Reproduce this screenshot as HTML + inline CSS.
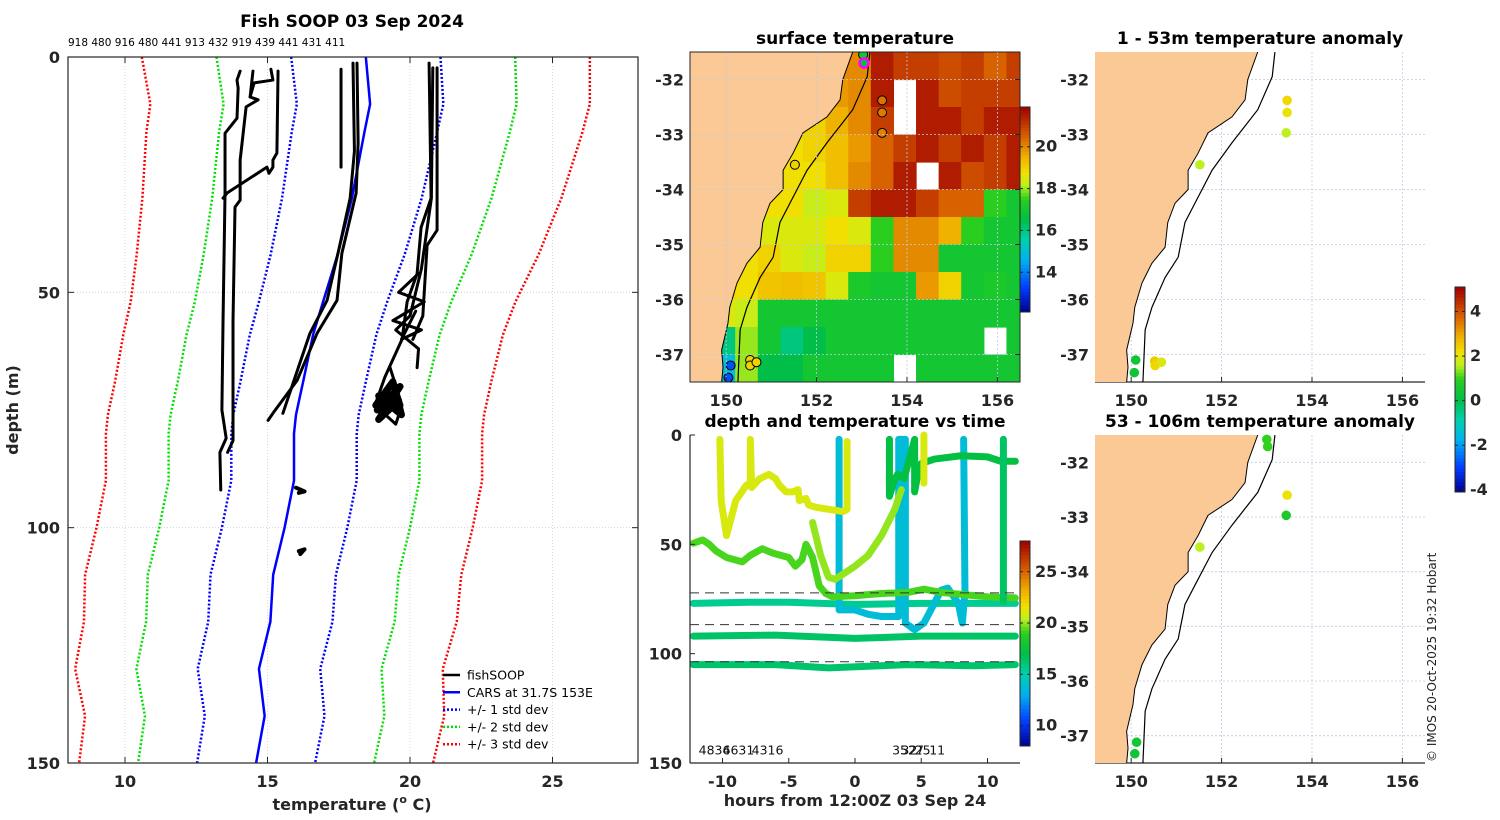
<!DOCTYPE html>
<html><head><meta charset="utf-8"><style>
html,body{margin:0;padding:0;background:#fff;}
svg{display:block;font-family:"DejaVu Sans","Liberation Sans",sans-serif;}
.tk{font-weight:bold;font-size:16px;fill:#262626;}
.tt{font-weight:bold;font-size:17px;fill:#000;}
</style></head><body>
<svg id="fig" width="1500" height="820" viewBox="0 0 1500 820" xmlns="http://www.w3.org/2000/svg">
<g id="main"></g>
<g id="sst"></g>
<g id="tdt"></g>
<g id="anom1"></g>
<g id="anom2"></g>
<text x="1436" y="762" transform="rotate(-90 1436 762)" font-size="12" fill="#222">© IMOS 20-Oct-2025 19:32 Hobart</text>
</svg>
<script>
// ---------- main profile chart data ----------
const depths = [0,10,16,30,42,52,59,69,76,80,90,100,110,120,130,140,150];
const carsMean = [18.45,18.6,18.4,17.96,17.46,16.95,16.6,16.25,16.0,15.93,15.93,15.6,15.2,15.1,14.7,14.9,14.6];
const carsSd = [2.62,2.57,2.55,2.45,2.35,2.25,2.22,2.2,2.2,2.2,2.2,2.2,2.2,2.18,2.15,2.1,2.07];
const xTicks = [10,15,20,25];
const yTicks = [0,50,100,150];
const topLabels = "918 480 916 480 441 913 432 919 439 441 431 411";
const profA = [[14.04,3],[13.93,4.9],[13.97,6.6],[13.93,13],[13.51,16.2],[13.51,28.9],[13.44,56],[13.4,75],[13.55,81],[13.33,84],[13.36,92]];
const profB = [[14.49,3],[14.39,8.5],[14.67,9.1],[14.25,10.6],[14.04,21.9],[14.04,30.4],[13.86,31.9],[13.79,56],[13.79,81.5],[13.6,84]];
const profC = [[15.12,2.6],[15.19,4.9],[14.53,5.5],[14.39,8.5]];
const profD = [[15.37,3],[15.33,20.4],[15.19,21.9],[15.19,23.4],[15.05,24.7],[14.98,23.4],[13.58,28.9],[13.44,30]];
const profF = [[17.58,2.6],[17.58,23.4]];
const profG1 = [[18.14,1.3],[18.18,18.3],[18.11,28.9],[17.61,41.7],[17.44,51.7],[16.74,58.7],[16.04,68.7],[15.19,75.7],[15.02,77.2]];
const profG2 = [[18.0,1.3],[18.05,20],[17.9,30],[17.5,41],[17.09,51.7],[16.49,58.7],[15.93,68.7],[15.54,75.7]];
const profH1 = [[20.67,1.3],[20.74,30],[20.39,36.2],[20.25,46],[19.9,52],[19.72,60],[19.12,68],[18.77,74],[19.5,78],[19.72,74],[19.3,66]];
const profH2 = [[20.95,2.3],[20.95,36.8],[20.6,40],[20.5,50],[20.45,55],[20.1,60]];
const profH3 = [[20.8,2.3],[20.75,30],[20.4,45],[20.0,55],[19.5,58],[20.3,62],[20.25,66]];
const profH4 = [[20.3,46],[19.6,50],[20.5,52],[19.4,56],[20.4,58],[19.7,60],[20.2,54]];
const profBlob = [[18.85,75],[19.65,70],[18.9,77],[19.6,73],[18.8,74],[19.4,69],[19.7,76],[18.9,72]];
const profS1 = [[16.0,91.5],[16.3,92.3],[16.1,92.6]];
const profS2 = [[16.1,105],[16.3,104.6],[16.15,105.6]];
const fishProfiles = [profA,profB,profC,profD,profF,profG1,profG2,profH1,profH2,profH3,profH4,profBlob,profS1,profS2];

// ---------- SST map data (0.5 deg cells from 149.2E, rows from 31.5S) ----------
const sstRows = [
[19,19,19,19,19,19,20,20,21.5,21,21,20.8,21,20.5,21],
[19,19,19,19,19,19,19.8,20,21.5,null,21.5,20.8,21,21,21],
[19,19,19,19,19,19,19.5,20,21,null,21.5,21.5,21,21.5,21.5],
[19,19,19,19,18.8,19,19.3,19.8,20.5,21,21.5,21,21.5,21,21.5],
[19,19,19,19,18.8,18.8,19.3,20,20.5,21.5,null,21.5,20.8,21,21.5],
[19,19,19,18.8,18.8,18.3,18.5,21,21.5,21.5,21,20.5,20.5,17.5,17],
[19,19,19,18.5,18.5,18.5,18.8,18.5,17.5,20,20,19.5,17.5,17,17],
[19,19,18.8,19,18.5,18.3,19,19,17.5,20,20,17,17,17,17],
[19,19,18.8,19.2,19.3,19.2,18.5,17.2,17,17,19.8,19,17,17.2,17],
[18,18.5,18.3,17,17,17,17,17,17,17,17,17,17,17,17],
[16,16,18,17,16,16.5,17,17,17,17,17,17,17,null,17],
[15,15,18,16.5,16.5,17,17,17,17,null,17,17,17,17,17]];
const coastLon = [152.8,152.58,152.52,152.23,151.7,151.48,151.26,151.26,150.97,150.81,150.75,150.46,150.24,150.08,150.04,149.9,149.93,149.9];
const coastLat = [-31.5,-32.0,-32.37,-32.68,-32.97,-33.34,-33.65,-34.0,-34.25,-34.6,-35.05,-35.34,-35.7,-36.14,-36.43,-36.92,-37.23,-37.5];
const shelfLon = [153.18,153.12,152.8,152.23,151.79,151.41,151.19,151.04,150.75,150.46,150.31,150.26];
const shelfLat = [-31.5,-31.95,-32.55,-33.15,-33.65,-34.25,-34.6,-35.23,-35.6,-36.14,-36.55,-37.5];
const lonTicks = [150,152,154,156];
const latTicks = [-32,-33,-34,-35,-36,-37];
const sstStLon = [153.45,153.45,153.45,151.52,150.53,150.53,150.67,150.1,150.05,153.03];
const sstStLat = [-32.38,-32.6,-32.97,-33.55,-37.1,-37.2,-37.14,-37.2,-37.42,-31.55];
const sstStVal = [20.3,20.2,20.1,19.0,19.0,19.0,19.0,13.5,13.5,17.0];
const sstCbTicks = [14,16,18,20];

// ---------- depth/time chart data ----------
const trkHours1 = [-12.2,-11.5,-11,-10.5,-9.7,-8.5,-7.9,-7,-6.2,-5,-4.5,-4,-3.7,-3.2,-2.7,-2.2,-1.7,0,2,4,5.2,6.5,8.2,10,12.1];
const trkDepth1 = [49.5,48,50,53,56,58,55,52,54,56,60,57,50,56,69,72.5,74,73.5,72.5,72,70.5,72,73,74,74.5];
const trkTemp1 = 19.3;
const trkHours2 = [-10.2,-10.1,-9.7,-9,-8.2,-7.9,-7.9,-7.8,-7.2,-6.5,-6,-5.7,-5.2,-4.7,-4.3,-4.2,-3.7,-3.5,-3,-2,-0.9,-0.6,-0.6];
const trkDepth2 = [2,30,46,30,23,22,2,24,20,18,20,23,26,26,25,30,29,32,33,34,35,34,3];
const trkTemp2 = 21;
const trkHours3 = [-3.2,-2.6,-2,-1.5,-1,0,1,2,3,3.5];
const trkDepth3 = [40,55,65,66,64,60,55,46,34,25];
const trkTemp3 = 20;
const trkHours4 = [2.6,2.6,2.9,3.2,3.7,4.5,4.5,4.8,5,6,8,10,11,12.1];
const trkDepth4 = [2,28,22,18,20,2,26,16,13,11,9.5,10,12,12];
const trkTemp4 = 17.2;
const trkHours5 = [-1.2,-1.2,-1.2,0,1,2,3.3,3.3,3.5,3.8,3.8,4.5,5.2,5.9,6.5,7,7.8,8.1,8.3,8.2];
const trkDepth5 = [2,78,80,80,82,83,83,2,2,2,86,89,86,78,71,70,77,86,72,2];
const trkTemp5 = 13.8;
const trkHours6 = [-12.2,-8,-5,0,5,9,12.1];
const trkDepth6 = [77,76.5,76.5,77.5,77,77,77];
const trkTemp6 = 15.6;
const trkHours7 = [-12.2,-6,0,5,12.1];
const trkDepth7 = [92,91.5,93,92,92];
const trkTemp7 = 16.4;
const trkHours8 = [-12.2,-6,-2,4,9,12.1];
const trkDepth8 = [105,105,106.5,105,105.5,105];
const trkTemp8 = 16.3;
const trkHours9 = [11.2,11.2];
const trkDepth9 = [2,76];
const trkTemp9 = 16.5;
const trkHours10 = [5.2,5.2];
const trkDepth10 = [0,22];
const trkTemp10 = 21;
const dashDepths = [72.2,86.7,103.7];
const hourTicks = [-10,-5,0,5,10];
const tdDepthTicks = [0,50,100,150];
const tdCbTicks = [10,15,20,25];
const idLabels = ["4834","6631","4316","35","32","27","25","11"];
const idHours = [-11.8,-10.0,-7.8,2.8,3.5,4.0,4.5,5.6];

// ---------- anomaly maps ----------
const an1Lon = [153.45,153.45,153.43,151.52,150.1,150.07,150.52,150.53,150.67];
const an1Lat = [-32.38,-32.6,-32.97,-33.55,-37.1,-37.33,-37.12,-37.2,-37.14];
const an1Val = [2.3,2.1,1.6,1.6,0.4,0.4,2.5,2.3,1.9];
const an2Lon = [153.0,153.02,153.45,153.43,151.52,150.12,150.08];
const an2Lat = [-31.58,-31.71,-32.6,-32.97,-33.55,-37.12,-37.33];
const an2Val = [1.0,1.0,2.1,0.7,1.6,0.5,0.4];
const anCbTicks = [-4,-2,0,2,4];

// ---------- helpers ----------
const NS="http://www.w3.org/2000/svg";
function mk(parent,tag,attrs,txt){const e=document.createElementNS(NS,tag);for(const k in attrs)e.setAttribute(k,attrs[k]);if(txt!==undefined)e.textContent=txt;parent.appendChild(e);return e;}
const stops=[[0,[0,0,140]],[0.12,[0,60,255]],[0.25,[0,175,240]],[0.35,[0,208,176]],[0.45,[0,190,70]],[0.55,[40,205,30]],[0.62,[190,240,30]],[0.68,[240,225,0]],[0.76,[240,175,0]],[0.86,[215,95,0]],[1,[160,0,0]]];
function cmap(f){f=Math.max(0,Math.min(1,f));for(let i=1;i<stops.length;i++){if(f<=stops[i][0]){const a=stops[i-1],b=stops[i];const t=(f-a[0])/(b[0]-a[0]);const c=a[1].map((v,j)=>Math.round(v+(b[1][j]-v)*t));return `rgb(${c[0]},${c[1]},${c[2]})`;}}return 'rgb(160,0,0)';}
function colorbar(g,x,y0,y1,vmin,vmax,ticks,name){
  const n=60,h=(y1-y0)/n;
  for(let i=0;i<n;i++){mk(g,'rect',{x:x,y:y1-(i+1)*h,width:10,height:h+0.5,fill:cmap((i+0.5)/n)});}
  const fr=mk(g,'rect',{x:x,y:y0,width:10,height:y1-y0,fill:'none',stroke:'#262626','stroke-width':1});
  
  
  ticks.forEach(v=>{const yy=y1-(v-vmin)/(vmax-vmin)*(y1-y0);
    mk(g,'line',{x1:x,x2:x+3,y1:yy,y2:yy,stroke:'#262626'});mk(g,'line',{x1:x+7,x2:x+10,y1:yy,y2:yy,stroke:'#262626'});
    const t=mk(g,'text',{x:x+15,y:yy+5,class:'tk','font-size':13},String(v));
    
    });
}

// ---------- main chart ----------
(function(){
const g=document.getElementById('main');
const X0=68,X1=638,Y0=57,Y1=763;
const px=T=>X0+(T-8)/20*(X1-X0), py=d=>Y0+d/150*(Y1-Y0);
xTicks.forEach(v=>mk(g,'line',{x1:px(v),x2:px(v),y1:Y0,y2:Y1,stroke:'#d8c8d8','stroke-width':0.8,'stroke-dasharray':'1 2'}));
[50,100].forEach(v=>mk(g,'line',{x1:X0,x2:X1,y1:py(v),y2:py(v),stroke:'#c0c8e8','stroke-width':0.8,'stroke-dasharray':'1 2'}));
const sdCols=['#0000ff','#00e000','#ff0000'];
[1,2,3].forEach(k=>{[1,-1].forEach(s=>{
  const pts=depths.map((d,i)=>px(carsMean[i]+s*k*carsSd[i])+','+py(d)).join(' ');
  const l=mk(g,'polyline',{points:pts,fill:'none',stroke:sdCols[k-1],'stroke-width':2.5,'stroke-dasharray':'2 2'});
  
  
});});
const mean=mk(g,'polyline',{points:depths.map((d,i)=>px(carsMean[i])+','+py(d)).join(' '),fill:'none',stroke:'#0000ff','stroke-width':2.5});


fishProfiles.forEach((p,i)=>{
  const w=(p===profBlob)?7:(p===profS1||p===profS2)?4:3;
  const l=mk(g,'polyline',{points:p.map(q=>px(q[0])+','+py(q[1])).join(' '),fill:'none',stroke:'#000','stroke-width':w,'stroke-linejoin':'round','stroke-linecap':'round'});
  
  
});
mk(g,'rect',{x:X0,y:Y0,width:X1-X0,height:Y1-Y0,fill:'none',stroke:'#262626','stroke-width':1.2});
xTicks.forEach(v=>{mk(g,'line',{x1:px(v),x2:px(v),y1:Y1,y2:Y1-6,stroke:'#262626'});mk(g,'line',{x1:px(v),x2:px(v),y1:Y0,y2:Y0+6,stroke:'#262626'});
  const t=mk(g,'text',{x:px(v),y:Y1+24,class:'tk','text-anchor':'middle'},String(v));
  
  });
yTicks.forEach(v=>{mk(g,'line',{x1:X0,x2:X0+6,y1:py(v),y2:py(v),stroke:'#262626'});mk(g,'line',{x1:X1,x2:X1-6,y1:py(v),y2:py(v),stroke:'#262626'});
  const t=mk(g,'text',{x:X0-8,y:py(v)+6,class:'tk','text-anchor':'end'},String(v));
  
  });
const tl=mk(g,'text',{x:X0,y:46,'font-size':10.5,fill:'#000'},topLabels);


const ti=mk(g,'text',{x:352,y:27,class:'tt','text-anchor':'middle'},'Fish SOOP 03 Sep 2024');


const xl=mk(g,'text',{x:352,y:810,class:'tk','font-size':17,'text-anchor':'middle'});
xl.innerHTML='temperature (<tspan font-size="11" dy="-7">o</tspan><tspan dy="7"> C)</tspan>';


const yl=mk(g,'text',{x:18,y:410,class:'tk','font-size':17,'text-anchor':'middle',transform:'rotate(-90 18 410)'},'depth (m)');


const leg=[['fishSOOP','#000',''],['CARS at 31.7S 153E','#0000ff',''],['+/- 1 std dev','#0000ff','2 2'],['+/- 2 std dev','#00e000','2 2'],['+/- 3 std dev','#ff0000','2 2']];
leg.forEach((e,i)=>{const y=675+i*17.3;
  const lg=mk(g,'g',{});
  
  
  const a={x1:443,x2:460,y1:y,y2:y,stroke:e[1],'stroke-width':2.5};if(e[2])a['stroke-dasharray']=e[2];
  mk(lg,'line',a);mk(lg,'text',{x:467,y:y+4.5,'font-size':12.5,fill:'#000'},e[0]);});
})();

// ---------- map helper ----------
function mapFrame(g,X0,Y0,W,H){
  const mx=lon=>X0+(lon-149.2)/7.3*W, my=lat=>Y0+(-31.5-lat)/6*H;
  return {mx,my};
}
function drawLand(g,mx,my,X0,Y0,H){
  const pts=coastLon.map((l,i)=>mx(l)+','+my(coastLat[i]));
  pts.push(X0+','+(Y0+H));pts.push(X0+','+Y0);
  const land=mk(g,'polygon',{points:pts.join(' '),fill:'#fac996',stroke:'none'});
  
  
  mk(g,'polyline',{points:coastLon.map((l,i)=>mx(l)+','+my(coastLat[i])).join(' '),fill:'none',stroke:'#000','stroke-width':1});
  const sh=mk(g,'polyline',{points:shelfLon.map((l,i)=>mx(l)+','+my(shelfLat[i])).join(' '),fill:'none',stroke:'#000','stroke-width':1.2});
  
  
}
function mapAxes(g,mx,my,X0,Y0,W,H,box){
  lonTicks.forEach(v=>{mk(g,'line',{x1:mx(v),x2:mx(v),y1:Y0,y2:Y0+H,stroke:'#c4c8e4','stroke-width':0.8,'stroke-dasharray':'2 2'});
    mk(g,'line',{x1:mx(v),x2:mx(v),y1:Y0+H,y2:Y0+H-5,stroke:'#262626'});
    const t=mk(g,'text',{x:mx(v),y:Y0+H+24,class:'tk','text-anchor':'middle'},String(v));
    
    });
  latTicks.forEach(v=>{mk(g,'line',{x1:X0,x2:X0+W,y1:my(v),y2:my(v),stroke:'#c4c8e4','stroke-width':0.8,'stroke-dasharray':'2 2'});
    if(box){mk(g,'line',{x1:X0+W,x2:X0+W-5,y1:my(v),y2:my(v),stroke:'#262626'});}
    const t=mk(g,'text',{x:X0-6,y:my(v)+6,class:'tk','text-anchor':'end'},String(v));
    
    });
  if(box){mk(g,'rect',{x:X0,y:Y0,width:W,height:H,fill:'none',stroke:'#262626','stroke-width':1});}
  else{mk(g,'line',{x1:X0,x2:X0+W,y1:Y0+H,y2:Y0+H,stroke:'#262626','stroke-width':1.2});}
}

// ---------- SST map ----------
(function(){
const g=document.getElementById('sst');
const X0=690,Y0=52,W=330,H=330;
const {mx,my}=mapFrame(g,X0,Y0,W,H);
const clip=mk(g,'clipPath',{id:'sstclip'});mk(clip,'rect',{x:X0,y:Y0,width:W,height:H});
const cg=mk(g,'g',{'clip-path':'url(#sstclip)'});
sstRows.forEach((row,r)=>row.forEach((v,c)=>{
  if(v===null)return;
  const x=mx(149.2+c*0.5),y=my(-31.5-r*0.5);
  const cell=mk(cg,'rect',{x:x,y:y,width:mx(149.7+c*0.5)-x+0.6,height:my(-32-r*0.5)-y+0.6,fill:cmap((v-12.1)/9.8)});
  
  
}));
drawLand(cg,mx,my,X0,Y0,H);
sstStLon.forEach((l,i)=>{
  const c=mk(cg,'circle',{cx:mx(l),cy:my(sstStLat[i]),r:4.5,fill:cmap((sstStVal[i]-12.1)/9.8),stroke:'#000','stroke-width':1});
  
  
});
const mg=mk(cg,'circle',{cx:mx(153.05),cy:my(-31.7),r:4.5,fill:'#00c040',stroke:'#ff00ff','stroke-width':2.5});


mapAxes(g,mx,my,X0,Y0,W,H,true);
colorbar(g,1020,107,312,12.1,21.9,sstCbTicks,'sst-colorbar');
const t=mk(g,'text',{x:855,y:44,class:'tt','text-anchor':'middle'},'surface temperature');


})();

// ---------- depth/time chart ----------
(function(){
const g=document.getElementById('tdt');
const X0=690,X1=1020,Y0=435,Y1=763;
const tx=h=>855+h*13.25, ty=d=>Y0+d/150*(Y1-Y0);
const tracks=[[trkHours1,trkDepth1,trkTemp1],[trkHours2,trkDepth2,trkTemp2],[trkHours3,trkDepth3,trkTemp3],[trkHours4,trkDepth4,trkTemp4],[trkHours5,trkDepth5,trkTemp5],[trkHours6,trkDepth6,trkTemp6],[trkHours7,trkDepth7,trkTemp7],[trkHours8,trkDepth8,trkTemp8],[trkHours9,trkDepth9,trkTemp9],[trkHours10,trkDepth10,trkTemp10]];
const order=[5,6,7,4,0,1,2,3,8,9];
order.forEach(i=>{const t=tracks[i];
  const l=mk(g,'polyline',{points:t[0].map((h,j)=>tx(h)+','+ty(t[1][j])).join(' '),fill:'none',stroke:cmap((t[2]-8)/20),'stroke-width':7,'stroke-linejoin':'round','stroke-linecap':'round'});
  
  
});
dashDepths.forEach(d=>{const l=mk(g,'line',{x1:X0,x2:X1,y1:ty(d),y2:ty(d),stroke:'#333','stroke-width':1,'stroke-dasharray':'9 6'});
  
  });
idLabels.forEach((s,i)=>{const t=mk(g,'text',{x:tx(idHours[i]),y:ty(146),'font-size':12.5,fill:'#111'},s);
  
  });
mk(g,'line',{x1:X0,x2:X0,y1:Y0,y2:Y1,stroke:'#262626','stroke-width':1.2});
mk(g,'line',{x1:X0,x2:X1,y1:Y1,y2:Y1,stroke:'#262626','stroke-width':1.2});
hourTicks.forEach(v=>{mk(g,'line',{x1:tx(v),x2:tx(v),y1:Y1,y2:Y1-5,stroke:'#262626'});
  const t=mk(g,'text',{x:tx(v),y:Y1+24,class:'tk','text-anchor':'middle'},String(v));
  
  });
tdDepthTicks.forEach(v=>{mk(g,'line',{x1:X0,x2:X0+5,y1:ty(v),y2:ty(v),stroke:'#262626'});
  const t=mk(g,'text',{x:X0-8,y:ty(v)+6,class:'tk','text-anchor':'end'},String(v));
  
  });
colorbar(g,1020,541,746,8,28,tdCbTicks,'depth-time-colorbar');
const t=mk(g,'text',{x:855,y:427,class:'tt','text-anchor':'middle'},'depth and temperature vs time');


const xl=mk(g,'text',{x:855,y:806,class:'tk','font-size':17,'text-anchor':'middle'},'hours from 12:00Z 03 Sep 24');


})();

// ---------- anomaly maps ----------
function anomMap(id,Y0,H,lons,lats,vals,title){
  const g=document.getElementById(id);
  const X0=1095,W=330;
  const {mx,my}=mapFrame(g,X0,Y0,W,H);
  mapAxes(g,mx,my,X0,Y0,W,H,false);
  const cid=id+'clip';const clip=mk(g,'clipPath',{id:cid});mk(clip,'rect',{x:X0,y:Y0,width:W,height:H});
  const cg=mk(g,'g',{'clip-path':'url(#'+cid+')'});
  drawLand(cg,mx,my,X0,Y0,H);
  lons.forEach((l,i)=>{const c=mk(g,'circle',{cx:mx(l),cy:my(lats[i]),r:4.8,fill:cmap((vals[i]+4.1)/9.2)});
    
    });
  const t=mk(g,'text',{x:1260,y:Y0-8,class:'tt','text-anchor':'middle'},title);
  
  
}
anomMap('anom1',52,330,an1Lon,an1Lat,an1Val,'1 - 53m temperature anomaly');
anomMap('anom2',435,328,an2Lon,an2Lat,an2Val,'53 - 106m temperature anomaly');
colorbar(document.getElementById('anom1'),1455,287,492,-4.1,5.1,anCbTicks,'anomaly-colorbar');
</script>
</body></html>
